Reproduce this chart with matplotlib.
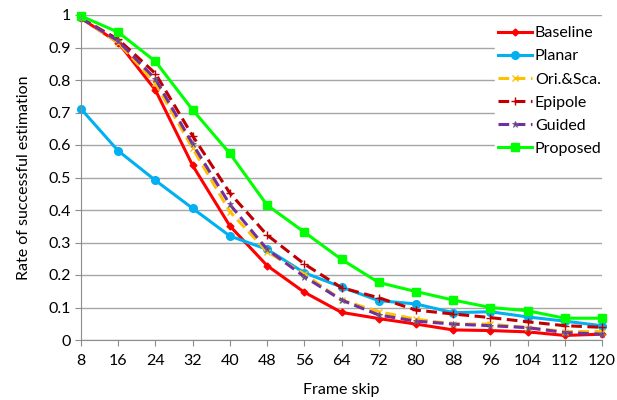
import matplotlib
matplotlib.use("Agg")
import matplotlib.pyplot as plt

plt.rcParams['font.family'] = ['Lato', 'DejaVu Sans']

frame_skip = [8, 16, 24, 32, 40, 48, 56, 64, 72, 80, 88, 96, 104, 112, 120]
baseline = [0.99, 0.915, 0.769, 0.537, 0.351, 0.229, 0.147, 0.085, 0.066, 0.049, 0.031, 0.029, 0.025, 0.014, 0.018]
planar   = [0.711, 0.582, 0.491, 0.405, 0.32, 0.279, 0.207, 0.163, 0.121, 0.111, 0.084, 0.087, 0.071, 0.058, 0.044]
ori_sca  = [0.99, 0.915, 0.79, 0.59, 0.395, 0.272, 0.203, 0.123, 0.087, 0.064, 0.049, 0.049, 0.038, 0.026, 0.026]
epipole  = [0.99, 0.925, 0.82, 0.628, 0.452, 0.323, 0.234, 0.161, 0.13, 0.092, 0.08, 0.069, 0.056, 0.044, 0.039]
guided   = [0.99, 0.92, 0.803, 0.603, 0.417, 0.279, 0.195, 0.123, 0.077, 0.058, 0.049, 0.044, 0.038, 0.023, 0.018]
proposed = [0.997, 0.947, 0.857, 0.708, 0.574, 0.415, 0.332, 0.248, 0.177, 0.149, 0.123, 0.10, 0.09, 0.067, 0.067]

labels = ['Baseline', 'Planar', 'Ori.&Sca.', 'Epipole', 'Guided', 'Proposed']
y_ticks = [0, 0.1, 0.2, 0.3, 0.4, 0.5, 0.6, 0.7, 0.8, 0.9, 1]
y_tick_labels = ['0', '0.1', '0.2', '0.3', '0.4', '0.5', '0.6', '0.7', '0.8', '0.9', '1']

fig = plt.figure(figsize=(6.17, 4.0), dpi=100)
ax = fig.add_axes([81/617, 60/400, (602-81)/617, (340-15)/400])

styles = [
    dict(color='#FF0000', ls='-', marker='D', ms=3.5, mew=1),
    dict(color='#00B0F0', ls='-', marker='o', ms=5.5),
    dict(color='#FFC000', ls=(0, (3.5, 1.8)), marker='x', ms=5, mew=1),
    dict(color='#C00000', ls=(0, (3.5, 1.8)), marker='+', ms=6, mew=1),
    dict(color='#7030A0', ls=(0, (3.5, 1.8)), marker='*', ms=5, mew=0.6, mec='#6A5F8A'),
    dict(color='#00FF00', ls='-', marker='s', ms=5.5),
]
series = [baseline, planar, ori_sca, epipole, guided, proposed]
for s, lab, st in zip(series, labels, styles):
    ax.plot(frame_skip, s, lw=2.2, label=lab, clip_on=False, **st)

ax.set_xlim(8, 120)
ax.set_ylim(0, 1)
ax.set_xticks(frame_skip)
ax.set_yticks(y_ticks)
ax.set_yticklabels(y_tick_labels)
ax.grid(axis='y', color='#A6A6A6', lw=1)
ax.set_axisbelow(True)
for sp in ['top', 'right']:
    ax.spines[sp].set_visible(False)
for sp in ['left', 'bottom']:
    ax.spines[sp].set_color('#8C8C8C')
ax.tick_params(axis='both', colors='#8C8C8C', labelcolor='black', labelsize=11.5, length=4, direction='out')
ax.tick_params(axis='x', pad=6)
ax.set_xlabel('Frame skip', fontsize=11.5, labelpad=11)
ax.set_ylabel('Rate of successful estimation', fontsize=11.5, labelpad=12)

leg = ax.legend(loc='upper left', bbox_to_anchor=(495/617, 1 - 23/400), bbox_transform=fig.transFigure,
                frameon=True, fontsize=11.5, handlelength=2.1, handletextpad=0.2,
                labelspacing=0.56, borderpad=0.2, borderaxespad=0)
leg.get_frame().set_edgecolor('white')
leg.get_frame().set_facecolor('white')
leg.get_frame().set_alpha(1)

fig.savefig('out.png', dpi=100)
